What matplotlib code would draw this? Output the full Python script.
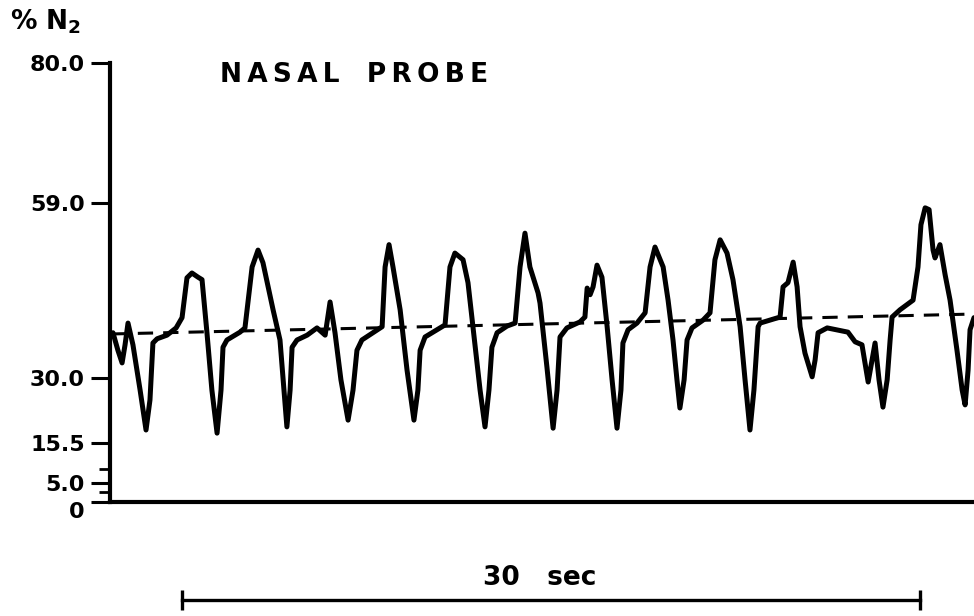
import numpy as np
import matplotlib
matplotlib.use("Agg")
import matplotlib.pyplot as plt

# trace: time (s) and % N2
tempo = [0.12, 0.32, 0.49, 0.61, 0.73, 0.93, 1.22, 1.46, 1.62, 1.74, 1.91, 2.31, 2.68, 2.92,
         3.12, 3.32, 3.57, 3.73, 3.93, 4.13, 4.34, 4.50, 4.58, 4.74, 5.27, 5.47,
         5.76, 6.00, 6.20, 6.61, 6.89, 7.05, 7.17, 7.30, 7.38, 7.58, 7.99, 8.39,
         8.72, 8.92, 9.12, 9.36, 9.65, 9.85, 10.01, 10.21, 10.66, 11.03,
         11.15, 11.31, 11.47, 11.76, 12.04, 12.32, 12.48, 12.57, 12.77, 13.38, 13.58,
         13.78, 13.98, 14.31, 14.51, 14.71, 15.00, 15.20, 15.36, 15.48, 15.69, 16.09, 16.42,
         16.62, 16.82, 17.02, 17.35, 17.43, 17.71, 17.96, 18.12, 18.24, 18.52, 19.05, 19.25,
         19.34, 19.46, 19.58, 19.74, 19.94, 20.15, 20.35, 20.55, 20.71, 20.79, 21.00, 21.36, 21.69,
         21.89, 22.09, 22.42, 22.62, 22.82, 22.98, 23.10, 23.27, 23.39, 23.59, 24.04, 24.32,
         24.52, 24.73, 25.01, 25.25, 25.54, 25.74, 25.94, 26.10, 26.27,
         26.35, 26.75, 27.16, 27.28, 27.48, 27.69, 27.85, 27.97, 28.17, 28.46, 28.58, 28.70,
         29.07, 29.91, 30.20, 30.48, 30.73, 31.01, 31.17, 31.33, 31.50, 31.62, 31.70, 32.02,
         32.55, 32.75, 32.87, 33.04, 33.20, 33.36, 33.44, 33.64, 33.85, 34.05, 34.33, 34.54,
         34.66, 34.78, 34.86, 35.02]
n2 = [37.5, 34.6, 32.5, 35.5, 39.1, 35.5, 27.3, 18.4, 25.1, 35.8, 36.5, 37.1, 38.3, 40.0,
      46.6, 47.4, 46.7, 46.3, 37.5, 27.3, 17.7, 27.3, 35.1, 36.3, 37.6, 38.3,
      48.4, 51.2, 49.1, 41.3, 36.3, 27.3, 19.1, 27.3, 35.1, 36.3, 37.1, 38.3,
      37.1, 42.6, 37.5, 29.6, 20.6, 27.3, 34.6, 36.3, 37.5, 38.5,
      48.4, 52.1, 48.4, 41.3, 31.3, 20.6, 27.3, 34.6, 36.8, 38.3, 38.8,
      48.4, 50.7, 49.6, 45.8, 38.5, 27.3, 19.1, 27.3, 35.1, 37.5, 38.6, 39.1,
      48.4, 54.0, 48.4, 44.1, 42.4, 31.8, 18.8, 27.3, 36.8, 38.3, 39.3, 40.1,
      44.9, 43.8, 45.1, 48.7, 46.7, 38.5, 29.6, 18.8, 27.3, 35.8, 38.0, 39.1, 40.8,
      48.4, 51.7, 48.4, 42.9, 36.3, 29.6, 23.3, 29.6, 36.3, 38.3, 39.6, 40.8,
      49.6, 52.9, 50.7, 46.3, 38.5, 29.6, 18.4, 27.3, 38.5,
      39.1, 39.6, 40.1, 45.1, 45.8, 49.2, 45.1, 38.5, 34.1, 30.2, 33.0, 37.5,
      38.3, 37.6, 36.0, 35.5, 29.1, 35.8, 29.6, 23.5, 29.6, 36.3, 40.1, 41.3,
      42.9, 48.4, 55.4, 58.2, 57.9, 51.2, 49.9, 52.1, 47.1, 42.9, 34.6, 27.3,
      24.0, 31.3, 38.0, 40.0]

# dashed reference level
base_t = [0.1, 35.02]
base_n2 = [37.3, 40.6]

# 30 s time bar
barra_t = [2.92, 32.84]

# uneven meter scale: value -> height on the paper
escala_val = [0, 2.5, 5, 10, 15.5, 30, 59, 80]
escala_pos = [0, 10, 19, 33, 59, 124, 299, 439]
ticks_val = [0, 5, 15.5, 30, 59, 80]
ticks_txt = ["0", "5.0", "15.5", "30.0", "59.0", "80.0"]
ticks_menores = [2.5, 10]


def para_frente(v):
    return np.interp(v, escala_val, escala_pos)


def inversa(p):
    return np.interp(p, escala_pos, escala_val)


fig = plt.figure(figsize=(9.74, 6.16), dpi=100)
ax = fig.add_axes([110 / 974, 114 / 616, 864 / 974, 439 / 616])

ax.plot(tempo, n2, color="black", lw=3.6, solid_joinstyle="round", solid_capstyle="round")
ax.plot(base_t, base_n2, color="black", lw=2.2, dashes=(5, 3.3))

ax.set_yscale("function", functions=(para_frente, inversa))
ax.set_ylim(0, 80)
ax.set_xlim(0, 35.02)

ax.set_yticks(ticks_val)
ax.set_yticklabels(ticks_txt, fontsize=16, fontweight="bold")
ax.set_yticks(ticks_menores, minor=True)
ax.tick_params(axis="y", which="major", length=14, width=2.2, pad=4)
ax.tick_params(axis="y", which="minor", length=8, width=2.0)
ax.set_xticks([])

for lado in ["top", "right"]:
    ax.spines[lado].set_visible(False)
ax.spines["left"].set_linewidth(3)
ax.spines["bottom"].set_linewidth(3)

# label "0" sits a bit below the baseline
ax.get_yticklabels()[0].set_va("top")

fig.text(10 / 974, 1 - 30 / 616, r"% N$_\mathbf{2}$", fontsize=19, fontweight="bold",
         ha="left", va="baseline")
fig.text(354 / 974, 1 - 75 / 616, "N\u2009A\u2009S\u2009A\u2009L   P\u2009R\u2009O\u2009B\u2009E",
         fontsize=19, fontweight="bold", ha="center", va="center")

# time bar under the chart
tr = ax.get_xaxis_transform()
ax.plot(barra_t, [-0.223, -0.223], color="black", lw=2.4, transform=tr, clip_on=False)
ax.plot(barra_t, [-0.223, -0.223], color="black", lw=0, marker="|", markersize=14,
        markeredgewidth=2.4, transform=tr, clip_on=False)
fig.text(540 / 974, 1 - 578 / 616, "30   sec", fontsize=19, fontweight="bold",
         ha="center", va="center")

fig.savefig("out.png", dpi=100)
